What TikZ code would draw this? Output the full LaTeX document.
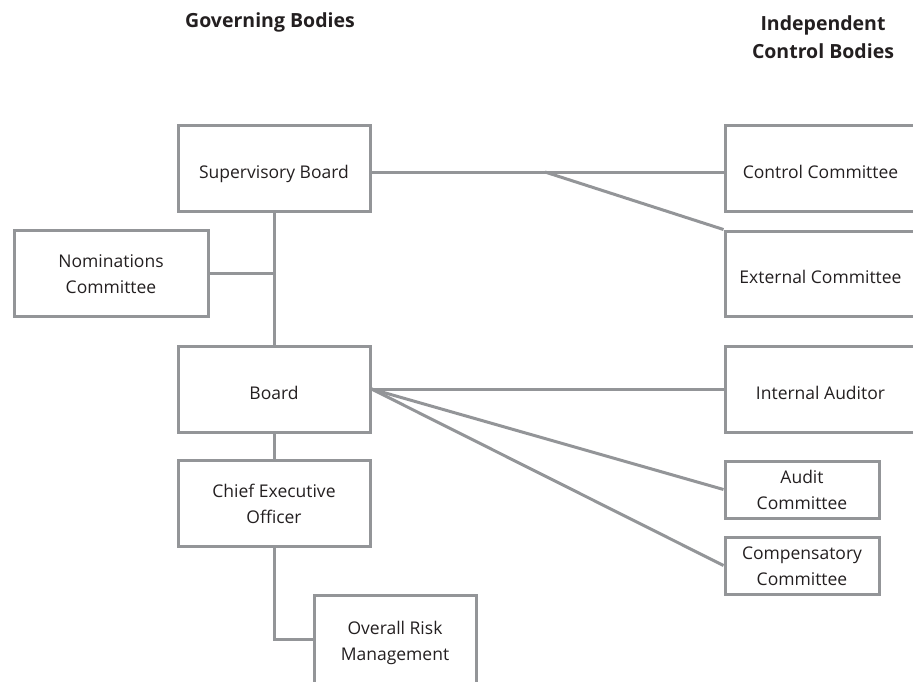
\documentclass[tikz,border=0pt]{standalone}
\usepackage{fontspec}
\setmainfont{Open Sans}
\definecolor{linegrey}{HTML}{939598}
\definecolor{txt}{HTML}{231F20}
\newcommand\lowtwo[1]{\raisebox{-2pt}[\height][\depth]{\begin{tabular}{@{}c@{}}#1\end{tabular}}}
\begin{document}
\begin{tikzpicture}[x=1pt,y=-1pt,
  box/.style={draw=linegrey, line width=3pt, rectangle, inner sep=0pt, align=center,
    font=\fontsize{17.5}{26}\selectfont, text=txt},
  oneline/.style={text height=20pt, text depth=0pt},
  conn/.style={draw=linegrey, line width=3pt},
  head/.style={font=\fontsize{19.5}{28}\selectfont\bfseries, text=txt, align=center, inner sep=0pt}]
\useasboundingbox (0,0) rectangle (913,681);
\clip (0,0) rectangle (913,681);
% headers
\node[head] (hg) at (270,22) {Governing Bodies};
\node[head] (hi) at (823,37) {Independent\\Control Bodies};
% left column
\node[box, oneline, minimum width=192pt, minimum height=86pt] (sv) at (274,168) {Supervisory Board};
\node[box, minimum width=194pt, minimum height=86pt] (nom) at (111,273) {\lowtwo{Nominations\\Committee}};
\node[box, oneline, minimum width=192pt, minimum height=86pt] (bd) at (274,389) {Board};
\node[box, minimum width=192pt, minimum height=86pt] (ceo) at (274,503) {\lowtwo{Chief Executive\\Officer}};
\node[box, minimum width=162pt, minimum height=90pt] (orm) at (395,640) {\lowtwo{Overall Risk\\Management}};
% right column
\node[box, oneline, minimum width=191pt, minimum height=86pt] (cc) at (820.5,168) {Control Committee};
\node[box, oneline, minimum width=191pt, minimum height=85pt] (ec) at (820.5,273.5) {External Committee};
\node[box, oneline, minimum width=191pt, minimum height=86pt] (ia) at (820.5,389) {Internal Auditor};
\node[box, minimum width=154pt, minimum height=57pt] (ac) at (802,489.5) {Audit\\Committee};
\node[box, minimum width=154pt, minimum height=57pt] (comp) at (802,565.5) {\lowtwo{Compensatory\\Committee}};
% connectors
\coordinate (j1) at (545,172);
\draw[conn] (sv.east |- j1) -- (cc.west |- j1);
\draw[conn] (j1) -- (ec.north west);
\draw[conn] (sv.south) -- (bd.north);
\coordinate (j2) at (274,273);
\draw[conn] (nom.east |- j2) -- (j2);
\draw[conn] (bd.east) -- (ia.west);
\draw[conn] (bd.east) -- (ac.west);
\draw[conn] (bd.east) -- (comp.west);
\draw[conn] (bd.south) -- (ceo.north);
\coordinate (j3) at (274,639);
\draw[conn] (ceo.south) -- (j3) -- (orm.west |- j3);
\end{tikzpicture}
\end{document}
